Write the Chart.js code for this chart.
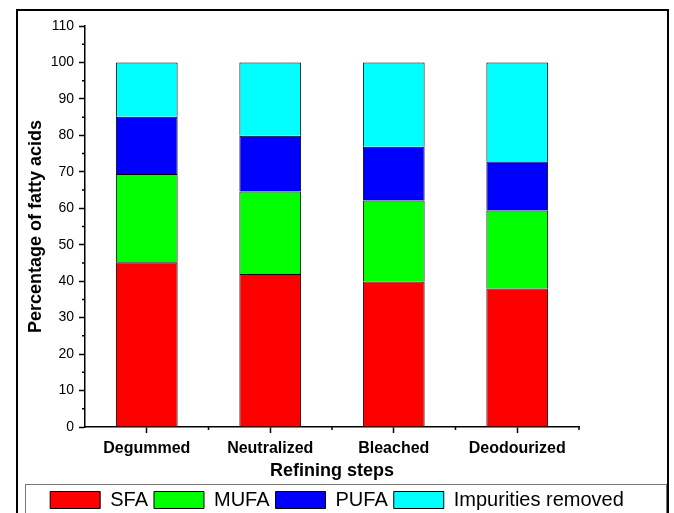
<!DOCTYPE html>
<html>
<head>
<meta charset="utf-8">
<script src="https://cdn.jsdelivr.net/npm/chart.js@4.4.1/dist/chart.umd.min.js"></script>
<style>
  html, body { margin: 0; padding: 0; background: #fff; overflow: hidden; }
  #wrap { position: relative; width: 674px; height: 513px; overflow: hidden; }
  #frame { position: absolute; left: 16px; top: 9px; width: 653px; height: 520px; border: 2px solid #000; box-sizing: border-box; pointer-events: none; }
  #legendFrame { position: absolute; left: 25px; top: 484px; width: 642px; height: 40px; border: 1px solid #777; box-sizing: border-box; pointer-events: none; }
</style>
</head>
<body>
<div id="wrap">
  <canvas id="myChart" width="674" height="520"></canvas>
  <div id="legendFrame"></div>
  <div id="frame"></div>
</div>
<script>
// data
const steps = ['Degummed', 'Neutralized', 'Bleached', 'Deodourized'];
const sfa = [45.2, 42.0, 39.9, 38.0];
const mufa = [24.2, 22.6, 22.2, 21.4];
const pufa = [15.7, 15.3, 14.8, 13.4];
const impurities = [14.9, 20.1, 23.1, 27.2];
const yTicks = [0, 10, 20, 30, 40, 50, 60, 70, 80, 90, 100, 110];

const FONT = 'Arial, "Liberation Sans", sans-serif';

// small ticks between the labelled ones
const minorTicks = {
    id: 'minorTicks',
    afterDraw(chart) {
        const ctx = chart.ctx;
        const x = chart.scales.x, y = chart.scales.y;
        ctx.save();
        ctx.strokeStyle = '#000';
        ctx.lineWidth = 1.5;
        ctx.beginPath();
        for (let i = 0; i < yTicks.length - 1; i++) {
            const py = y.getPixelForValue((yTicks[i] + yTicks[i + 1]) / 2);
            ctx.moveTo(y.right - 3, py);
            ctx.lineTo(y.right, py);
        }
        const half = (x.getPixelForValue(1) - x.getPixelForValue(0)) / 2;
        for (let i = 0; i < steps.length; i++) {
            const px = x.getPixelForValue(i) + half;
            ctx.moveTo(px, x.top);
            ctx.lineTo(px, x.top + 3);
        }
        ctx.stroke();
        ctx.restore();
    }
};

function generateGraph() {
    var ctx = document.getElementById('myChart');

    var myChart = new Chart(ctx, {
        type: 'bar',
        data: {
            labels: steps,
            datasets: [
                { label: 'SFA', data: sfa, backgroundColor: '#ff0000', borderColor: '#000', borderWidth: 1 },
                { label: 'MUFA', data: mufa, backgroundColor: '#00ff00', borderColor: '#000', borderWidth: 1 },
                { label: 'PUFA', data: pufa, backgroundColor: '#0000ff', borderColor: '#000', borderWidth: 1 },
                { label: 'Impurities removed', data: impurities, backgroundColor: '#00ffff', borderColor: '#000', borderWidth: 1 }
            ]
        },
        options: {
            responsive: false,
            animation: false,
            events: [],
            barPercentage: 0.5,
            categoryPercentage: 1,
            layout: {
                padding: { left: 0, right: 0, top: 26, bottom: 0 }
            },
            plugins: {
                tooltip: { enabled: false },
                legend: {
                    position: 'bottom',
                    labels: {
                        color: '#000',
                        font: { family: FONT, size: 20 },
                        boxWidth: 50,
                        boxHeight: 17,
                        padding: 6
                    }
                }
            },
            scales: {
                x: {
                    stacked: true,
                    afterFit: (scale) => { scale.height = 57; },
                    grid: {
                        offset: false,
                        drawOnChartArea: false,
                        drawTicks: true,
                        tickLength: 6,
                        tickColor: '#000',
                        tickWidth: 1.5
                    },
                    border: { display: true, color: '#000', width: 1.5 },
                    ticks: {
                        color: '#000',
                        padding: 6,
                        maxRotation: 0,
                        font: { family: FONT, size: 16, weight: 'bold' }
                    },
                    title: {
                        display: true,
                        text: 'Refining steps',
                        color: '#000',
                        font: { family: FONT, size: 18, weight: 'bold' },
                        padding: { top: 0, bottom: 2 }
                    }
                },
                y: {
                    stacked: true,
                    min: 0,
                    max: 110,
                    afterFit: (scale) => { scale.width = 85; },
                    afterBuildTicks: (scale) => { scale.ticks = yTicks.map(v => ({ value: v })); },
                    grid: {
                        drawOnChartArea: false,
                        drawTicks: true,
                        tickLength: 6,
                        tickColor: '#000',
                        tickWidth: 1.5
                    },
                    border: { display: true, color: '#000', width: 1.5 },
                    ticks: {
                        color: '#000',
                        padding: 5,
                        font: { family: FONT, size: 14 }
                    },
                    title: {
                        display: true,
                        text: 'Percentage of fatty acids',
                        color: '#000',
                        font: { family: FONT, size: 18, weight: 'bold' },
                        padding: { top: 25, bottom: 0 }
                    }
                },
                // empty right-hand box that keeps the plot narrow without narrowing the legend
                spacer: {
                    type: 'linear',
                    position: 'right',
                    afterFit: (scale) => { scale.width = 95; },
                    grid: { display: false },
                    border: { display: false },
                    ticks: { display: false },
                    title: { display: false }
                }
            }
        },
        plugins: [minorTicks]
    });
}

generateGraph();
</script>
</body>
</html>
